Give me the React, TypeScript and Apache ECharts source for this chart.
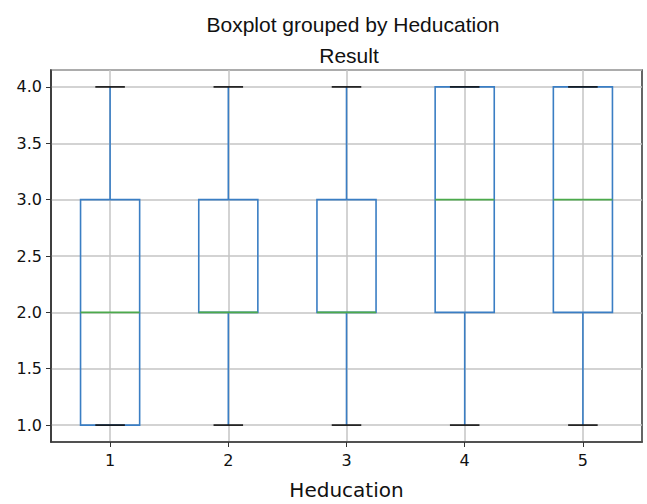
import React, { useEffect, useRef } from "react";
import * as echarts from "echarts";

const categories = ["1", "2", "3", "4", "5"];
// [whiskerLow, q1, median, q3, whiskerHigh]
const lowWhisker = [1, 1, 1, 1, 1];
const q1Values = [1, 2, 2, 2, 2];
const medianValues = [2, 2, 2, 3, 3];
const q3Values = [3, 3, 3, 4, 4];
const highWhisker = [4, 4, 4, 4, 4];

const BLUE = "#3a7ec4";
const GREEN = "#4caa4c";
const BLACK = "#111111";

export default function App() {
  const ref = useRef<HTMLDivElement>(null);
  useEffect(() => {
    if (!ref.current) return;
    const chart = echarts.init(ref.current, null, { renderer: "svg" });
    const data = categories.map((c, i) => [
      i,
      lowWhisker[i],
      q1Values[i],
      medianValues[i],
      q3Values[i],
      highWhisker[i],
    ]);
    chart.setOption({
      animation: false,
      backgroundColor: "#ffffff",
      title: [
        {
          text: "Boxplot grouped by Heducation",
          left: 348,
          top: 9,
          textAlign: "center",
          textStyle: { fontFamily: "Liberation Sans", fontSize: 21, fontWeight: "normal", color: "#111" },
        },
        {
          text: "Result",
          left: 344,
          top: 40,
          textAlign: "center",
          textStyle: { fontFamily: "Liberation Sans", fontSize: 21, fontWeight: "normal", color: "#111" },
        },
      ],
      grid: {
        left: 51,
        top: 70,
        width: 591,
        height: 372,
        show: true,
        borderColor: "#333",
        borderWidth: 1.5,
        backgroundColor: "transparent",
        containLabel: false,
        outerBoundsMode: "none",
      },
      xAxis: {
        type: "category",
        data: categories,
        boundaryGap: true,
        name: "Heducation",
        nameLocation: "middle",
        nameGap: 37,
        nameTextStyle: { fontFamily: "DejaVu Sans", fontSize: 20, lineHeight: 22, color: "#111" },
        axisLine: { show: true, lineStyle: { color: "#333", width: 1.5 } },
        axisTick: { show: true, alignWithLabel: true, length: 5, lineStyle: { color: "#333" } },
        axisLabel: { fontFamily: "DejaVu Sans", fontSize: 16, color: "#111", margin: 10 },
        splitLine: { show: true, alignWithLabel: true, lineStyle: { color: "#c4c4c4", width: 1.5 } },
      },
      yAxis: {
        type: "value",
        min: 0.85,
        max: 4.15,
        minInterval: 0.5,
        maxInterval: 0.5,
        axisLine: { show: true, lineStyle: { color: "#333", width: 1.5 } },
        axisTick: { show: true, length: 5, lineStyle: { color: "#333" } },
        axisLabel: {
          fontFamily: "DejaVu Sans",
          fontSize: 16,
          color: "#111",
          margin: 9,
          showMinLabel: false,
          showMaxLabel: false,
          formatter: (v: number) =>
            Math.abs(v * 2 - Math.round(v * 2)) < 1e-6 ? v.toFixed(1) : "",
        },
        splitLine: { show: true, lineStyle: { color: "#c4c4c4", width: 1.5 } },
      },
      series: [
        {
          type: "custom",
          data,
          clip: false,
          renderItem: (params: any, api: any) => {
            const x = api.value(0);
            const lo = api.coord([x, api.value(1)]);
            const q1 = api.coord([x, api.value(2)]);
            const med = api.coord([x, api.value(3)]);
            const q3 = api.coord([x, api.value(4)]);
            const hi = api.coord([x, api.value(5)]);
            const band = api.size([1, 0])[0];
            const bw = band * 0.5;
            const cw = bw * 0.5;
            const cx = lo[0];
            return {
              type: "group",
              children: [
                {
                  type: "line",
                  shape: { x1: cx, y1: q1[1], x2: cx, y2: lo[1] },
                  style: { stroke: BLUE, lineWidth: 1.6 },
                },
                {
                  type: "line",
                  shape: { x1: cx, y1: q3[1], x2: cx, y2: hi[1] },
                  style: { stroke: BLUE, lineWidth: 1.6 },
                },
                {
                  type: "rect",
                  shape: { x: cx - bw / 2, y: q3[1], width: bw, height: q1[1] - q3[1] },
                  style: { fill: "none", stroke: BLUE, lineWidth: 1.6 },
                },
                {
                  type: "line",
                  shape: { x1: cx - bw / 2, y1: med[1], x2: cx + bw / 2, y2: med[1] },
                  style: { stroke: GREEN, lineWidth: 1.6 },
                },
                {
                  type: "line",
                  shape: { x1: cx - cw / 2, y1: lo[1], x2: cx + cw / 2, y2: lo[1] },
                  style: { stroke: BLACK, lineWidth: 1.6 },
                },
                {
                  type: "line",
                  shape: { x1: cx - cw / 2, y1: hi[1], x2: cx + cw / 2, y2: hi[1] },
                  style: { stroke: BLACK, lineWidth: 1.6 },
                },
              ],
            };
          },
        },
      ],
    });
    return () => chart.dispose();
  }, []);
  return <div ref={ref} style={{ width: 647, height: 504, position: "absolute", left: 0, top: 0 }} />;
}
